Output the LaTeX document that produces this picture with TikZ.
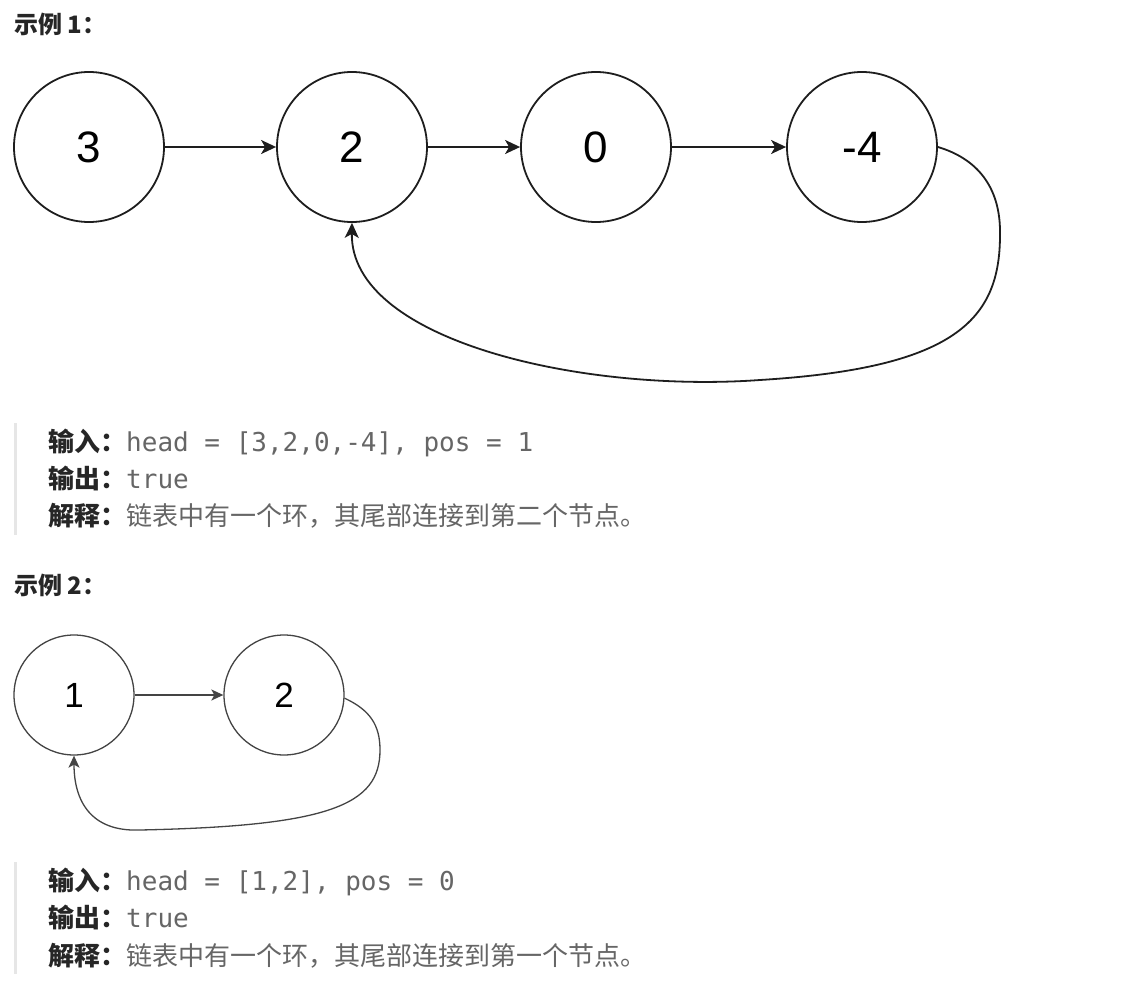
\documentclass[tikz,border=0pt]{standalone}
\usepackage{fontspec}
\usetikzlibrary{arrows.meta}
\newfontfamily\cjk{Noto Sans CJK SC}
\newfontfamily\arialf{Liberation Sans}
\newfontfamily\monof{DejaVu Sans Mono}
\definecolor{lab}{HTML}{262626}
\definecolor{txt}{HTML}{666666}
\definecolor{bar}{HTML}{E6E6E6}
\definecolor{lineA}{HTML}{1E1E1E}
\definecolor{lineB}{HTML}{444444}
\tikzset{
  nodeA/.style={circle, draw=lineA, line width=1.8pt, minimum size=150pt, inner sep=0pt,
    font=\arialf\fontsize{44}{44}\selectfont, text=black},
  nodeB/.style={circle, draw=lineB, line width=1.3pt, minimum size=120pt, inner sep=0pt,
    font=\arialf\fontsize{35}{35}\selectfont, text=black},
  arrA/.style={draw=lineA, line width=1.8pt, -{Stealth[length=15pt,width=14pt,inset=4pt]}},
  arrB/.style={draw=lineB, line width=1.3pt, -{Stealth[length=12pt,width=11pt,inset=3pt]}},
  heading/.style={anchor=base west, inner sep=0pt, text=lab, font=\cjk\bfseries\fontsize{24}{24}\selectfont},
  textline/.style={anchor=base west, inner sep=0pt, text=lab, font=\fontsize{26}{26}\selectfont},
  quotebar/.style={fill=bar, draw=none}
}
\newcommand{\lbl}[1]{{\cjk\bfseries\color{lab}#1}}
\newcommand{\mtxt}[1]{{\monof\color{txt}#1}}
\newcommand{\ctxt}[1]{{\cjk\color{txt}#1}}
\begin{document}
\begin{tikzpicture}[x=1pt,y=-1pt]
\fill[white] (0,0) rectangle (1125,1001);
\useasboundingbox (0,0) rectangle (1125,1001);

% Example 1
\node[heading] (h1) at (14,33) {示例 1：};
\node[nodeA] (a) at (89,147) {3};
\node[nodeA] (b) at (352,147) {2};
\node[nodeA] (c) at (596,147) {0};
\node[nodeA] (d) at (862,147) {-4};
\draw[arrA] (a.east) -- (b.west);
\draw[arrA] (b.east) -- (c.west);
\draw[arrA] (c.east) -- (d.west);
\draw[arrA] (d.east) .. controls (975,158) and (1001,185) .. (1000,235)
  .. controls (1000,320) and (955,368) .. (760,380)
  .. controls (580,393) and (350,340) .. (b.south);

\fill[quotebar] (14,423) rectangle (17,535);
\node[textline] (l1) at (48,451) {\lbl{输入：}\mtxt{head = [3,2,0,-4], pos = 1}};
\node[textline] (l2) at (48,488) {\lbl{输出：}\mtxt{true}};
\node[textline] (l3) at (48,525) {\lbl{解释：}\ctxt{链表中有一个环，其尾部连接到第二个节点。}};

% Example 2
\node[heading] (h2) at (14,594) {示例 2：};
\node[nodeB] (e) at (74,695) {1};
\node[nodeB] (f) at (284,695) {2};
\draw[arrB] (e.east) -- (f.west);
\draw[arrB] (f.-3) .. controls (370,710) and (380,725) .. (380,750)
  .. controls (380,805) and (330,826) .. (140,830)
  .. controls (90,832) and (74,800) .. (e.south);

\fill[quotebar] (14,862) rectangle (17,974);
\node[textline] (m1) at (48,890) {\lbl{输入：}\mtxt{head = [1,2], pos = 0}};
\node[textline] (m2) at (48,927) {\lbl{输出：}\mtxt{true}};
\node[textline] (m3) at (48,965) {\lbl{解释：}\ctxt{链表中有一个环，其尾部连接到第一个节点。}};
\end{tikzpicture}
\end{document}
